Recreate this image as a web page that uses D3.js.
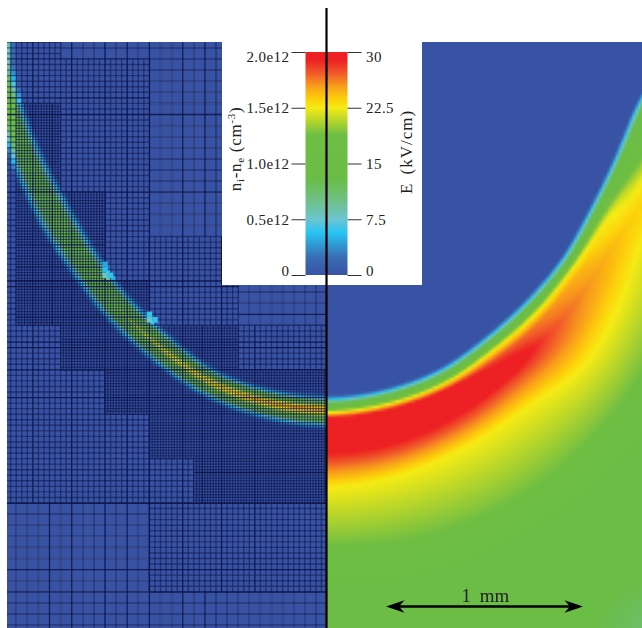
<!DOCTYPE html>
<html>
<head>
<meta charset="utf-8">
<style>
  body { margin: 0; background: #fff; }
  #chart { position: relative; width: 642px; height: 628px; overflow: hidden; }
  canvas, svg { position: absolute; left: 0; top: 0; }
  canvas { filter: blur(0.45px); }
  text { font-family: "Liberation Serif", serif; fill: #222; }
</style>
</head>
<body>
<div id="chart"></div>
<script src="https://cdn.jsdelivr.net/npm/d3@7"></script>
<script>
const chartWidth = 642
const chartHeight = 628

// colour table (fraction of the range, bottom to top)
const colorStops = [0, 0.08, 0.19, 0.25, 0.33, 0.43, 0.63, 0.75, 0.79, 0.85, 0.9, 0.965, 1]
const colorValues = ['#3953a4', '#3a6db3', '#27c4f4', '#6cc5d1', '#6fc08a', '#6abd45', '#6fbe44', '#f6eb14', '#fdcf0b', '#f89a1c', '#f15f2a', '#ed2024', '#ed2024']

const densityTicks = [0, 0.5, 1, 1.5, 2]
const densityLabels = ['0', '0.5e12', '1.0e12', '1.5e12', '2.0e12']
const fieldTicks = [0, 7.5, 15, 22.5, 30]
const fieldLabels = ['0', '7.5', '15', '22.5', '30']

// E field on the right: for each ray from the top of the axis, radius (px) and E (kV/cm) at 13 knots
const rayAngles = [0, 10, 20, 30, 40, 50, 60, 70, 80, 90]
const rayRadii = [
  [335, 339.5, 343.5, 349, 352.5, 358, 372, 393, 428, 485, 515, 600, 700],
  [332.5, 336.5, 340.5, 346, 349.5, 355.5, 369.5, 389, 421.5, 485, 515, 600, 700],
  [327, 331, 335, 340.5, 344, 350.5, 364, 381, 411, 480, 510, 610, 700],
  [317, 321, 325, 330.5, 334.5, 343, 357, 372, 401, 468, 500, 600, 650],
  [310, 314, 318, 323.5, 328, 336, 352, 369, 399, 452, 482, 600, 700],
  [305.5, 309, 313, 318, 322, 329, 344, 359, 381, 434, 464, 600, 700],
  [300.5, 304, 308, 314, 322, 330, 342, 352, 369, 416, 446, 600, 700],
  [301.5, 305, 309, 317, 329, 337, 350, 360, 375, 408, 438, 600, 700],
  [308.5, 312, 317, 327, 340, 350, 360, 370, 385, 410, 440, 600, 700],
  [326, 330, 335, 345, 358, 368, 378, 388, 403, 428, 458, 600, 700],
]
const rayField = [
  [0, 6, 13, 18, 22.5, 29.5, 33, 29, 22.5, 19, 16, 14.5, 13.5],
  [0, 6, 13, 18, 22.5, 29.5, 33, 29, 22.5, 19, 16, 14.5, 13.5],
  [0, 6, 13, 18, 22.5, 29, 32.5, 28.5, 22.5, 19, 16, 14, 12.5],
  [0, 6, 13, 18, 22.5, 27.5, 31, 27.5, 22.5, 19, 16, 13, 11.3],
  [0, 6, 13, 18, 22.5, 26, 27.5, 26, 22.5, 19, 16, 14.5, 13],
  [0, 6, 13, 18, 22.5, 24.5, 25.5, 24.5, 22.5, 19, 16, 15, 14.5],
  [0, 6, 13, 18, 22.5, 23, 24, 23.5, 22, 19, 16, 15, 15],
  [0, 6, 13, 17, 20, 22, 23, 22.5, 21, 19, 16, 15, 15],
  [0, 6, 13, 16, 18, 20, 21, 20, 19, 18, 16, 15, 15],
  [0, 6, 13, 16, 18, 20, 21, 20, 19, 18, 16, 15, 15],
]

// charge layer on the left: cyan edges, crest radius (px) and crest density (1e12 cm-3) per ray
const bandInner = [338, 336, 331, 319, 310, 302, 298, 301, 308, 317]
const bandCrest = [349, 347, 342, 332, 324, 316, 313, 315, 320, 327]
const bandOuter = [365, 362, 356, 346, 338, 331, 329, 329, 332, 340]
const bandPeak = [1.72, 1.68, 1.58, 1.48, 1.3, 1.12, 1.08, 1.02, 1.05, 0.95]

// mesh blocks, in coarse cells from the axis and from the bottom of the refined part
// [uMin, uMax, vMin, vMax, level]
const meshBlocks = [
  [0, 30, -12, 42, 0],
  [24, 30, 36, 42, 1],
  [16, 30, 0, 40, 1],
  [8, 16, 16, 24, 1],
  [0, 8, 12, 16, 1],
  [0, 16, -8, 0, 1],
  [12, 16, 0, 4, 1],
  [24, 28, 28, 36, 2],
  [20, 28, 16, 28, 2],
  [16, 28, 16, 20, 2],
  [8, 24, 12, 16, 2],
  [0, 20, 8, 12, 2],
  [0, 16, 4, 8, 2],
  [0, 12, 0, 4, 2],
]
const boldU = [26.5, 24.75, 23, 20, 18, 16, 13, 11.25, 9.5, 6.5]
const boldV = [36.5, 35, 28, 23.25, 21.25, 20, 19.5, 16.75, 14.5, 14, 12, 9.5, 2.75, 0, -6, -8]

// isolated bright cells just outside the refined blocks
const hotU = [19.75, 19.75, 19.25, 19.75, 15.75, 15.75, 15.25]
const hotV = [20.75, 20.25, 20.25, 21.25, 16.75, 16.25, 16.25]
const hotN = [0.36, 0.55, 0.4, 0.3, 0.4, 0.52, 0.4]

const cell = 11.1
const axisX = 327
const panelTop = 42
const panelLeft = 7
const centerY = 60
const meshBottom = 503

const uScale = d3.scaleLinear().domain([0, 1]).range([axisX, axisX - cell])
const vScale = d3.scaleLinear().domain([0, 1]).range([meshBottom, meshBottom - cell])
const colorScale = d3.scaleLinear().domain(colorStops).range(colorValues).clamp(true)
const densityScale = d3.scaleLinear().domain([0, 2]).range([275, 52])
const fieldScale = d3.scaleLinear().domain([0, 30]).range([275, 52])
const barScale = d3.scaleLinear().domain([0, 1]).range([386, 583])

const densityColor = n => colorScale(n / 2)
const fieldColor = e => colorScale(e / 30)

// polar position of a pixel, measured from the axis
function polar(dx, y) {
  const dy = y - centerY
  return { r: Math.hypot(dx, dy), angle: (Math.atan2(dx, dy) * 180) / Math.PI }
}

function catmull(p0, p1, p2, p3, f) {
  return 0.5 * (2 * p1 + (p2 - p0) * f + (2 * p0 - 5 * p1 + 4 * p2 - p3) * f * f + (3 * p1 - p0 - 3 * p2 + p3) * f * f * f)
}

function rayAt(table, angle) {
  const n = rayAngles.length
  const a = Math.max(0, Math.min(angle, rayAngles[n - 1] - 0.001))
  const i = d3.bisectRight(rayAngles, a) - 1
  const f = (a - rayAngles[i]) / (rayAngles[i + 1] - rayAngles[i])
  const r0 = table[Math.max(i - 1, 0)]
  const r3 = table[Math.min(i + 2, n - 1)]
  if (!Array.isArray(table[0])) return catmull(r0, table[i], table[i + 1], r3, f)
  return table[i].map((d, k) => catmull(r0[k], d, table[i + 1][k], r3[k], f))
}

function fieldAt(dx, y) {
  const { r, angle } = polar(dx, y)
  const radii = rayAt(rayRadii, angle)
  const values = rayAt(rayField, angle)
  return d3.scaleLinear().domain(radii).range(values).clamp(true)(r)
}

function densityAt(dx, y) {
  const { r, angle } = polar(dx, y)
  const a = rayAt(bandInner, angle)
  const b = rayAt(bandCrest, angle)
  const c = rayAt(bandOuter, angle)
  if (r < a - 5 || r > c + 5) return 0
  const peak = rayAt(bandPeak, angle)
  const shoulder = 0.62 * peak + 0.2
  return d3
    .scaleLinear()
    .domain([a - 5, a, a + 0.5 * (b - a), b, b + 0.5 * (c - b), c, c + 5])
    .range([0, 0.38, shoulder, peak, shoulder, 0.38, 0])(r)
}

const chart = d3.select('#chart')
const canvas = chart.append('canvas').attr('width', chartWidth).attr('height', chartHeight)
const ctx = canvas.node().getContext('2d')

function drawFieldPanel() {
  const step = cell / 4
  const cols = Math.ceil((chartWidth - axisX) / step)
  const rows = Math.ceil((chartHeight - panelTop) / step)
  const off = document.createElement('canvas')
  off.width = cols
  off.height = rows
  const c = off.getContext('2d')
  for (let i = 0; i < cols; i++) {
    for (let j = 0; j < rows; j++) {
      c.fillStyle = fieldColor(fieldAt((i + 0.5) * step, panelTop + (j + 0.5) * step))
      c.fillRect(i, j, 1, 1)
    }
  }
  ctx.imageSmoothingEnabled = true
  ctx.drawImage(off, axisX, panelTop, cols * step, rows * step)
}

function isBold(list, value, step) {
  return list.some(d => Math.abs(d - value) < step * 0.3)
}

function drawBlock([u0, u1, v0, v1, level]) {
  const step = 1 / 2 ** level
  const size = cell * step
  for (let u = u0; u < u1; u += step) {
    for (let v = v0; v < v1; v += step) {
      ctx.fillStyle = densityColor(densityAt(-uScale(u + step / 2) + axisX, vScale(v + step / 2)))
      ctx.fillRect(uScale(u + step), vScale(v + step), size, size)
    }
  }
  const alpha = [0.45, 0.5, 0.6][level]
  const width = [1.6, 1.4, 1.2][level]
  for (let u = u0; u <= u1; u += step) {
    const bold = isBold(boldU, u, step)
    ctx.strokeStyle = `rgba(12,20,72,${bold ? 0.9 : alpha})`
    ctx.lineWidth = bold ? 1.3 : width
    ctx.beginPath()
    ctx.moveTo(uScale(u), vScale(v0))
    ctx.lineTo(uScale(u), vScale(v1))
    ctx.stroke()
  }
  for (let v = v0; v <= v1; v += step) {
    const bold = isBold(boldV, v, step)
    ctx.strokeStyle = `rgba(12,20,72,${bold ? 0.9 : alpha})`
    ctx.lineWidth = bold ? 1.3 : width
    ctx.beginPath()
    ctx.moveTo(uScale(u0), vScale(v))
    ctx.lineTo(uScale(u1), vScale(v))
    ctx.stroke()
  }
}

function drawMeshPanel() {
  ctx.save()
  ctx.beginPath()
  ctx.rect(panelLeft, panelTop, axisX - panelLeft, chartHeight - panelTop)
  ctx.clip()
  meshBlocks.forEach(drawBlock)
  hotU.forEach((u, i) => {
    ctx.fillStyle = densityColor(hotN[i])
    ctx.fillRect(uScale(u + 0.5), vScale(hotV[i] + 0.5), cell / 2, cell / 2)
  })
  ctx.restore()
}

drawFieldPanel()
drawMeshPanel()

const svg = chart.append('svg').attr('width', chartWidth).attr('height', chartHeight)

// white panel holding the colour bar
svg.append('rect').attr('x', 222).attr('y', panelTop).attr('width', 200).attr('height', 243).attr('fill', '#fff')

const gradient = svg
  .append('defs')
  .append('linearGradient')
  .attr('id', 'bar')
  .attr('x1', 0)
  .attr('x2', 0)
  .attr('y1', 1)
  .attr('y2', 0)
gradient
  .selectAll('stop')
  .data(colorStops)
  .enter()
  .append('stop')
  .attr('offset', d => d)
  .attr('stop-color', (d, i) => colorValues[i])

svg
  .append('rect')
  .attr('x', 305.5)
  .attr('y', densityScale(2))
  .attr('width', 42)
  .attr('height', densityScale(0) - densityScale(2))
  .attr('fill', 'url(#bar)')

function styleAxis(g) {
  g.select('.domain').remove()
  g.selectAll('.tick line').attr('stroke', '#333').attr('stroke-width', 1)
  g.selectAll('.tick text').attr('font-size', 15).attr('letter-spacing', 0.45).attr('fill', '#222')
  // the end labels sit inside the bar's range
  g.selectAll('.tick text').attr('dy', (d, i, nodes) => (i === 0 ? '0.02em' : i === nodes.length - 1 ? '0.66em' : '0.32em'))
}

svg
  .append('g')
  .attr('transform', 'translate(305.5,0)')
  .call(
    d3
      .axisLeft(densityScale)
      .tickValues(densityTicks)
      .tickFormat((d, i) => densityLabels[i])
      .tickSize(14)
      .tickPadding(2),
  )
  .call(styleAxis)

svg
  .append('g')
  .attr('transform', 'translate(347.5,0)')
  .call(
    d3
      .axisRight(fieldScale)
      .tickValues(fieldTicks)
      .tickFormat((d, i) => fieldLabels[i])
      .tickSize(14)
      .tickPadding(4.5),
  )
  .call(styleAxis)

// rotated colour bar titles
const densityTitle = svg
  .append('text')
  .attr('transform', 'translate(241,149) rotate(-90)')
  .attr('text-anchor', 'middle')
  .attr('font-size', 17)
  .attr('letter-spacing', 0.7)
densityTitle.append('tspan').text('n')
densityTitle.append('tspan').attr('dy', 3).attr('font-size', 11).text('i')
densityTitle.append('tspan').attr('dy', -3).text('-n')
densityTitle.append('tspan').attr('dy', 3).attr('font-size', 11).text('e')
densityTitle.append('tspan').attr('dy', -3).text(' (cm')
densityTitle.append('tspan').attr('dy', -6).attr('font-size', 11).text('-3')
densityTitle.append('tspan').attr('dy', 6).text(')')

svg
  .append('text')
  .attr('transform', 'translate(412,152) rotate(-90)')
  .attr('text-anchor', 'middle')
  .attr('font-size', 17)
  .attr('letter-spacing', 1)
  .attr('word-spacing', 3)
  .text('E (kV/cm)')

// symmetry axis
svg
  .append('line')
  .attr('x1', 326.5)
  .attr('x2', 326.5)
  .attr('y1', 8)
  .attr('y2', chartHeight)
  .attr('stroke', '#000')
  .attr('stroke-width', 2.2)

// scale bar
const barY = 606.5
const headLength = 18.5
const headHalf = 6.2
const headNotch = 13
const scaleBar = svg.append('g')
scaleBar
  .append('line')
  .attr('x1', barScale(0) + 6)
  .attr('x2', barScale(1) - 6)
  .attr('y1', barY)
  .attr('y2', barY)
  .attr('stroke', '#000')
  .attr('stroke-width', 2.3)
scaleBar
  .selectAll('path')
  .data([
    [barScale(0), 1],
    [barScale(1), -1],
  ])
  .enter()
  .append('path')
  .attr('fill', '#000')
  .attr('d', ([x, dir]) => {
    const p = d3.path()
    p.moveTo(x, barY)
    p.lineTo(x + dir * headLength, barY - headHalf)
    p.lineTo(x + dir * headNotch, barY)
    p.lineTo(x + dir * headLength, barY + headHalf)
    p.closePath()
    return p.toString()
  })
scaleBar
  .append('text')
  .attr('x', barScale(0.5) + 1)
  .attr('y', 602)
  .attr('text-anchor', 'middle')
  .attr('font-size', 19)
  .attr('word-spacing', 4)
  .text('1 mm')
</script>
</body>
</html>
